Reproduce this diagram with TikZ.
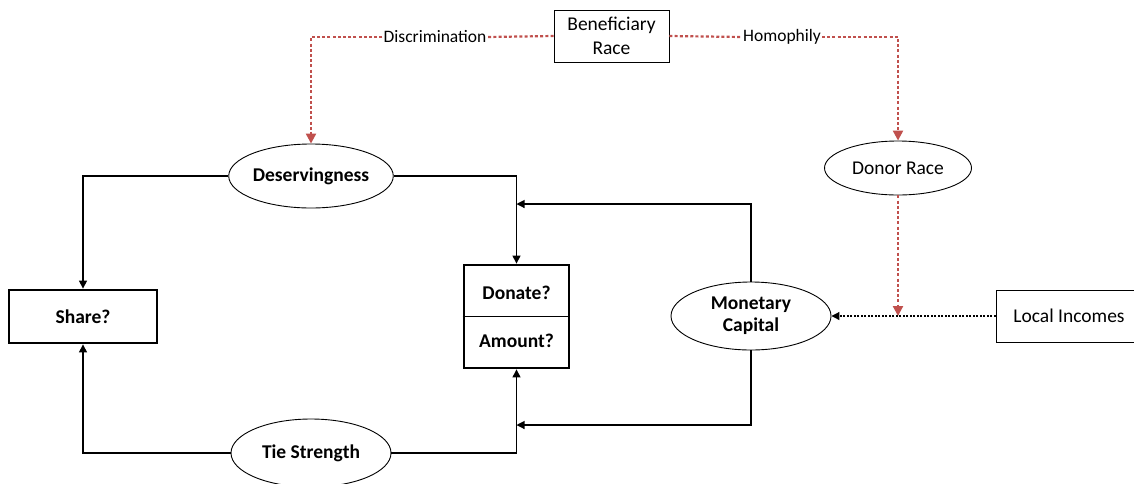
\documentclass[tikz,border=0pt]{standalone}
\usepackage{fontspec}
\setmainfont{Carlito}
\usetikzlibrary{arrows.meta,shapes.geometric}
\definecolor{cred}{RGB}{192,80,77}
\begin{document}
\begin{tikzpicture}[x=1pt,y=-1pt,
  every node/.style={font=\fontsize{19.5}{24}\selectfont, align=center, inner sep=0pt},
  ell/.style={draw, ellipse, line width=0.9pt, fill=white},
  box/.style={draw, rectangle, line width=0.9pt, fill=white},
  thickbox/.style={draw, rectangle, line width=2.8pt, fill=white},
  lbl/.style={fill=white, inner sep=1pt, font=\fontsize{17.5}{21}\selectfont},
  arr/.style={line width=1.1pt, -{Triangle[length=8pt,width=8pt]}},
  reddot/.style={draw=cred, line width=2.2pt, dash pattern=on 3pt off 2.2pt},
  redarr/.style={reddot, -{Triangle[length=10pt,width=10pt,fill=cred]}},
  blkdot/.style={line width=1.1pt, dash pattern=on 2pt off 1.5pt, -{Triangle[length=8pt,width=8pt]}}
]
\useasboundingbox (0,0) rectangle (1134,483);

% nodes
\node[box, minimum width=115, minimum height=52] (ben) at (611.5,36) {Beneficiary\\Race};
\node[ell, minimum width=162, minimum height=64] (des) at (311,176) {\bfseries Deservingness};
\node[ell, minimum width=147, minimum height=54] (donor) at (898,168) {Donor Race};
\node[thickbox, minimum width=148, minimum height=53] (share) at (83,316.5) {\bfseries Share?};
\node[thickbox, minimum width=105, minimum height=103] (da) at (516.5,316.5) {};
\node (don) at (516.5,293) {\bfseries Donate?};
\node (amt) at (516.5,341) {\bfseries Amount?};
\node[ell, minimum width=160, minimum height=68] (mon) at (751,316) {\bfseries Monetary\\[-2pt]\bfseries Capital};
\node[box, minimum width=146, minimum height=52] (loc) at (1069,316) {Local Incomes};
\node[ell, minimum width=160, minimum height=68] (tie) at (311,453) {\bfseries Tie Strength};

\node[lbl] (disc) at (435,37) {Discrimination};
\node[lbl] (hom) at (782,37) {Homophily};

\coordinate (t1) at (516.5,204);
\coordinate (t2) at (516.5,425);
\coordinate (j) at (donor.south |- mon.east);

% divider in the donate box
\draw[line width=0.8pt] (da.west) -- (da.east);

% red dotted connectors
\draw[reddot] (ben.west) -- (disc.east);
\draw[redarr] (disc.west) -| (des.north);
\draw[reddot] (ben.east) -- (hom.west);
\draw[redarr] (hom.east) -| (donor.north);
\draw[redarr] (donor.south) -- (j);

% black dotted
\draw[blkdot] (loc.west) -- (mon.east);

% solid arrows
\draw[arr] (des.west) -| (share.north);
\draw[arr] (des.east) -| (da.north);
\draw[arr] (tie.west) -| (share.south);
\draw[arr] (tie.east) -| (da.south);
\draw[arr] (mon.north) |- (t1);
\draw[arr] (mon.south) |- (t2);
\end{tikzpicture}
\end{document}
